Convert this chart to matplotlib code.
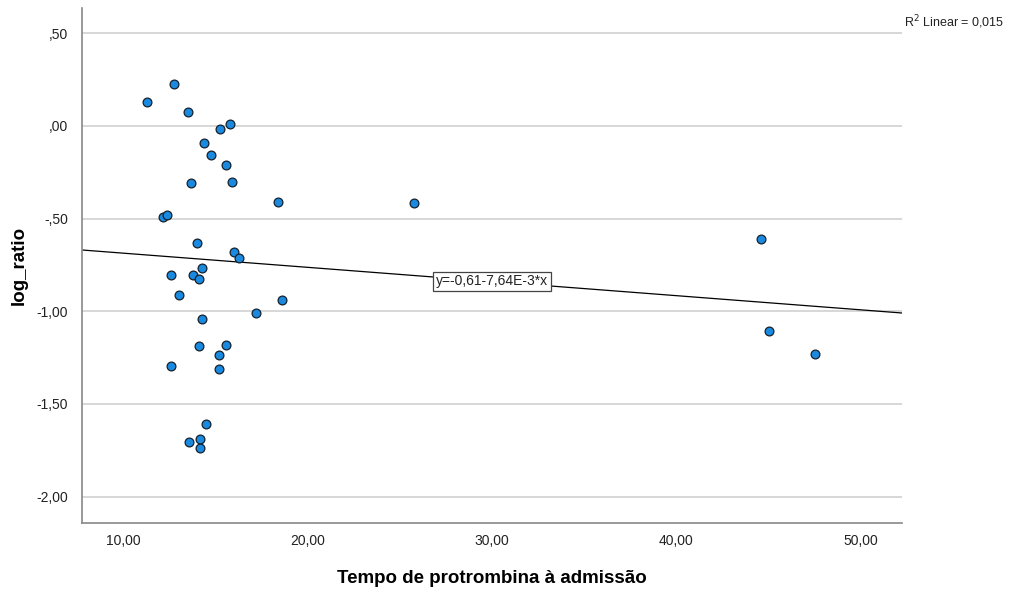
import numpy as np
from matplotlib import pyplot as plt

plt.rcParams['font.family'] = ['Liberation Sans', 'DejaVu Sans']

# valori
tempo = [11.29, 12.77, 13.49, 15.26, 15.77, 14.38, 14.77, 15.57, 13.67, 15.90,
         18.39, 12.15, 12.39, 13.98, 15.99, 16.28, 14.27, 12.59, 13.77, 14.09,
         13.01, 18.59, 14.27, 17.18, 14.09, 15.59, 15.18, 12.59, 15.18, 14.49,
         13.58, 14.18, 14.18, 25.79, 44.60, 45.02, 47.52]
log_ratio = [0.131, 0.227, 0.074, -0.014, 0.013, -0.092, -0.158, -0.209, -0.308, -0.304,
             -0.408, -0.491, -0.480, -0.630, -0.680, -0.711, -0.765, -0.804, -0.806, -0.824,
             -0.910, -0.939, -1.043, -1.011, -1.189, -1.184, -1.234, -1.297, -1.313, -1.608,
             -1.705, -1.688, -1.738, -0.416, -0.611, -1.106, -1.232]

intercetta = -0.61
pendenza = -7.64e-3
x_ticks = [10, 20, 30, 40, 50]
y_ticks = [0.5, 0.0, -0.5, -1.0, -1.5, -2.0]

def etichetta(v):
    s = "%.2f" % v
    s = s.replace(".", ",")
    if s.startswith("0,"):
        s = s[1:]
    if s.startswith("-0,") and v != 0:
        s = "-" + s[2:]
    return s

fig = plt.figure(figsize=(10.12, 5.92), dpi=100)
ax = fig.add_axes([0.0807, 0.117, 0.8103, 0.869])

xmin, xmax = 7.74, 52.24
ax.set_xlim(xmin, xmax)
ax.set_ylim(-2.141, 0.635)

for v in y_ticks:
    ax.axhline(v, color="#d4d4d4", lw=1.3, zorder=1)

xx = np.array([xmin, xmax])
ax.plot(xx, intercetta + pendenza * xx, color="black", lw=0.9, zorder=2)

ax.scatter(tempo, log_ratio, s=40, facecolor="#1a8ae0", edgecolor="#14202c",
           linewidths=0.9, zorder=3)

ax.text(30, intercetta + pendenza * 30, "y=-0,61-7,64E-3*x", ha="center", va="center",
        fontsize=10, color="#222222", zorder=4,
        bbox=dict(boxstyle="square,pad=0.2", facecolor="white", edgecolor="#444444", lw=0.9))

ax.set_xticks(x_ticks)
ax.set_xticklabels([etichetta(v) for v in x_ticks])
ax.set_yticks(y_ticks)
ax.set_yticklabels([etichetta(v) for v in y_ticks])
ax.tick_params(axis="x", length=0, labelsize=10, colors="#222222", pad=8)
ax.tick_params(axis="y", length=0, labelsize=10, colors="#222222", pad=10)

for lato in ["top", "right"]:
    ax.spines[lato].set_visible(False)
for lato in ["left", "bottom"]:
    ax.spines[lato].set_color("#888888")
    ax.spines[lato].set_linewidth(1.2)

ax.set_xlabel("Tempo de protrombina à admissão", fontsize=13.5, fontweight="bold", labelpad=16)
ax.set_ylabel("log_ratio", fontsize=13.5, fontweight="bold", labelpad=6)

fig.text(0.893, 0.962, "R$^2$ Linear = 0,015", fontsize=9, color="#222222", ha="left", va="center")

plt.savefig("out.png", dpi=100)
